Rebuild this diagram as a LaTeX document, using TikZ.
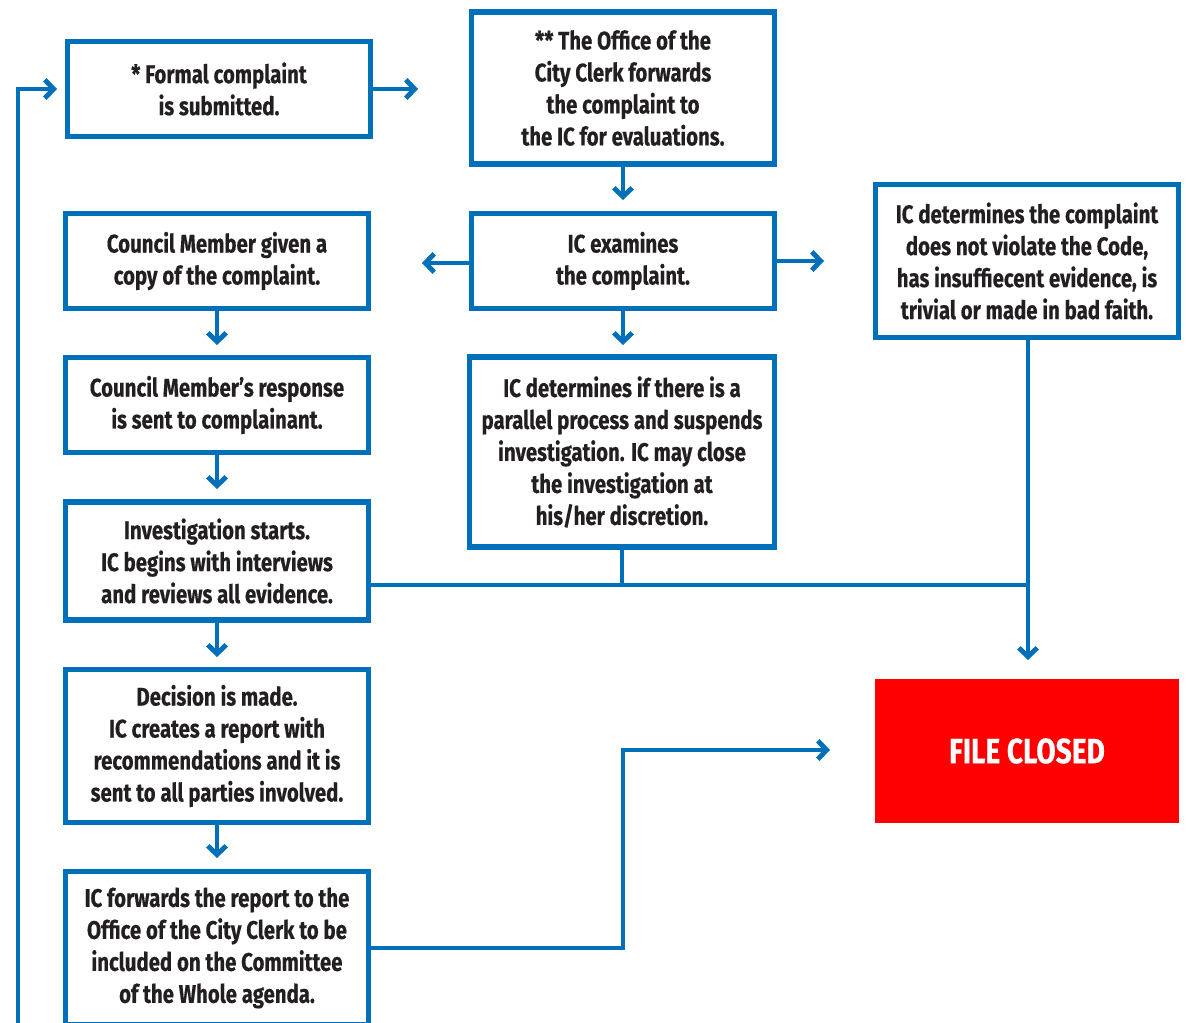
\documentclass[tikz,border=0pt]{standalone}
\usepackage{fontspec}
\setmainfont{Fira Sans}[FakeStretch=0.8, BoldFeatures={FakeBold=0.4}]
\usepackage{xcolor}
\usepackage{tikz}
\usetikzlibrary{positioning, arrows.meta}

\definecolor{flowblue}{HTML}{0070BA}
\definecolor{inktext}{HTML}{231F20}
\definecolor{closedred}{HTML}{FF0000}

\begin{document}
\begin{tikzpicture}[x=0.02cm, y=-0.02cm,
  stepbox/.style={rectangle, draw=flowblue, line width=3pt, fill=white, text=inktext,
    minimum width=6.06cm, minimum height=1.9cm, align=center, inner sep=0pt,
    font=\fontsize{14.5}{18.2}\selectfont\bfseries},
  flowline/.style={draw=flowblue, line width=2.8pt},
  flowarrow/.style={flowline, -{Straight Barb[length=5pt, width=10.5pt, line width=2.8pt]}}]

\useasboundingbox (0,0) rectangle (1189,1023);

\node[stepbox] at (219, 89) (submit) {* Formal complaint\\is submitted.};
\node[stepbox, minimum height=3.04cm] at (623, 88) (clerk) {** The Office of the\\City Clerk forwards\\the complaint to\\the IC for evaluations.};
\node[stepbox] at (623, 261) (examine) {IC examines\\the complaint.};
\node[stepbox, minimum height=3.06cm] at (1027, 261) (reject) {IC determines the complaint\\does not violate the Code,\\has insuffiecent evidence, is\\trivial or made in bad faith.};
\node[stepbox] at (217, 261) (copy) {Council Member given a\\copy of the complaint.};
\node[stepbox] at (217, 405) (response) {Council Member’s response\\is sent to complainant.};
\node[stepbox, minimum height=2.36cm] at (217, 561) (invest) {Investigation starts.\\IC begins with interviews\\and reviews all evidence.};
\node[stepbox, minimum width=6.1cm, minimum height=3.8cm] at (622, 452) (parallel) {IC determines if there is a\\parallel process and suspends\\investigation. IC may close\\the investigation at\\his/her discretion.};
\node[stepbox, minimum height=3.06cm] at (217, 746) (decision) {Decision is made.\\IC creates a report with\\recommendations and it is\\sent to all parties involved.};
\node[stepbox, minimum height=3.06cm] at (217, 948) (forward) {IC forwards the report to the\\Office of the City Clerk to be\\included on the Committee\\of the Whole agenda.};
\node[rectangle, fill=closedred, text=white, minimum width=6.08cm, minimum height=2.88cm,
  font=\fontsize{20}{24}\selectfont\bfseries] at (1027, 751) (closed) {FILE CLOSED};

% free ends
\coordinate (fbstart) at (18, 1035);
\coordinate (fbend) at (57, 89);
\coordinate (submitend) at (418, 89);
\coordinate (clerkend) at (623, 200);
\coordinate (copyend) at (422, 263);
\coordinate (rejectend) at (824, 261);
\coordinate (parallelend) at (623, 345);
\coordinate (copydown) at (217, 345);
\coordinate (responsedown) at (217, 489);
\coordinate (investdown) at (217, 657);
\coordinate (decisiondown) at (217, 858);
\coordinate (closedend) at (1028, 660);
\coordinate (joinpt) at (1028, 585);
\coordinate (bend) at (623, 750);
\coordinate (forwardend) at (830, 750);

\draw[flowarrow] (fbstart) |- (fbend);
\draw[flowarrow] (submit.east) -- (submitend);
\draw[flowarrow] (clerk.south) -- (clerkend);
\draw[flowarrow] (examine.west |- copyend) -- (copyend);
\draw[flowarrow] (examine.east) -- (rejectend);
\draw[flowarrow] (examine.south) -- (parallelend);
\draw[flowarrow] (copy.south) -- (copydown);
\draw[flowarrow] (response.south) -- (responsedown);
\draw[flowarrow] (invest.south) -- (investdown);
\draw[flowarrow] (decision.south) -- (decisiondown);
\draw[flowline] (invest.east |- joinpt) -- (joinpt);
\draw[flowline] (parallel.south) -- (parallel.south |- joinpt);
\draw[flowarrow] (reject.south -| joinpt) -- (closedend);
\draw[flowarrow] (forward.east) -| (bend) -- (forwardend);

\end{tikzpicture}
\end{document}
